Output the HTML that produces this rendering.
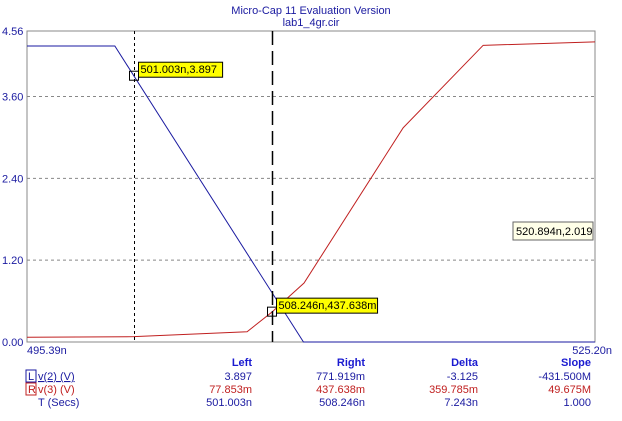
<!DOCTYPE html>
<html><head><meta charset="utf-8"><style>
body{margin:0;background:#fff;width:622px;height:416px;overflow:hidden;font-family:"Liberation Sans",sans-serif}
svg text{font-family:"Liberation Sans",sans-serif;font-size:11px}
</style></head><body>
<svg id="chart" width="622" height="416">
<text x="311" y="14" text-anchor="middle" fill="#1a1aa0">Micro-Cap 11 Evaluation Version</text>
<text x="311" y="26" text-anchor="middle" fill="#1a1aa0">lab1_4gr.cir</text>
<g id="grid"></g><g id="series"></g><g id="cursors"></g>
<g font-size="11">
<text x="252" y="366" text-anchor="end" fill="#1a1ad0" font-weight="bold">Left</text>
<text x="365" y="366" text-anchor="end" fill="#1a1ad0" font-weight="bold">Right</text>
<text x="478" y="366" text-anchor="end" fill="#1a1ad0" font-weight="bold">Delta</text>
<text x="591" y="366" text-anchor="end" fill="#1a1ad0" font-weight="bold">Slope</text>
<rect x="26" y="370" width="10" height="12" fill="none" stroke="#1a1aa0"/>
<text x="28" y="380" fill="#1a1aa0">L</text>
<text x="38" y="380" fill="#1a1aa0" text-decoration="underline">v(2) (V)</text>
<text x="252" y="380" text-anchor="end" fill="#1a1aa0">3.897</text>
<text x="365" y="380" text-anchor="end" fill="#1a1aa0">771.919m</text>
<text x="478" y="380" text-anchor="end" fill="#1a1aa0">-3.125</text>
<text x="591" y="380" text-anchor="end" fill="#1a1aa0">-431.500M</text>
<rect x="26" y="383" width="10" height="12" fill="none" stroke="#c02020"/>
<text x="28" y="393" fill="#c02020">R</text>
<text x="38" y="393" fill="#c02020">v(3) (V)</text>
<text x="252" y="393" text-anchor="end" fill="#c02020">77.853m</text>
<text x="365" y="393" text-anchor="end" fill="#c02020">437.638m</text>
<text x="478" y="393" text-anchor="end" fill="#c02020">359.785m</text>
<text x="591" y="393" text-anchor="end" fill="#c02020">49.675M</text>
<text x="38" y="406" fill="#1a1aa0">T (Secs)</text>
<text x="252" y="406" text-anchor="end" fill="#1a1aa0">501.003n</text>
<text x="365" y="406" text-anchor="end" fill="#1a1aa0">508.246n</text>
<text x="478" y="406" text-anchor="end" fill="#1a1aa0">7.243n</text>
<text x="591" y="406" text-anchor="end" fill="#1a1aa0">1.000</text>
</g>
</svg>
<script>
const yTicks=[0,1.2,2.4,3.6,4.56];
const yTickLabels=["0.00","1.20","2.40","3.60","4.56"];
const xRange=[495.39,525.2];
const xRangeLabels=["495.39n","525.20n"];
const v2Time=[495.39,500.0,509.9,525.2];
const v2Vals=[4.34,4.34,0,0];
const v3Time=[495.39,501.0,506.94,508.25,509.93,515.13,519.33,525.2];
const v3Vals=[0.07,0.078,0.15,0.44,0.865,3.14,4.35,4.40];
const cursorTimes=[501.003,508.246];
const cursorVals=[3.897,0.437638];
const cursorLabels=["501.003n,3.897","508.246n,437.638m"];
const X0=27,X1=595,Y0=342,Y1=31;
const sx=t=>X0+(t-xRange[0])/(xRange[1]-xRange[0])*(X1-X0);
const sy=v=>Y0-(v/4.56)*(Y0-Y1);
const NS="http://www.w3.org/2000/svg";
function mk(tag,at,parent,txt){const e=document.createElementNS(NS,tag);for(const k in at)e.setAttribute(k,at[k]);if(txt!==undefined)e.textContent=txt;parent.appendChild(e);return e;}
const g=document.getElementById('grid'),s=document.getElementById('series'),c=document.getElementById('cursors');
let r=mk('rect',{x:X0,y:Y1,width:X1-X0,height:Y0-Y1,fill:'none',stroke:'#888'},g);


yTicks.forEach((v,i)=>{
 if(v>0&&v<4.56){const l=mk('line',{x1:X0,x2:X1,y1:sy(v),y2:sy(v),stroke:'#888','stroke-dasharray':'3,3'},g);
 
 }
 const t=mk('text',{x:2,y:sy(v)+4,fill:'#1a1aa0'},g,yTickLabels[i]);
 
 
});
let t1=mk('text',{x:X0,y:Y0+12,fill:'#1a1aa0'},g,xRangeLabels[0]);


let t2=mk('text',{x:X1+17,y:Y0+12,fill:'#1a1aa0','text-anchor':'end'},g,xRangeLabels[1]);


const pts=(T,V)=>T.map((t,i)=>sx(t)+','+sy(V[i])).join(' ');
let p3=mk('polyline',{points:pts(v3Time,v3Vals),fill:'none',stroke:'#c02020','stroke-width':1},s);


let p2=mk('polyline',{points:pts(v2Time,v2Vals),fill:'none',stroke:'#1a1aa0','stroke-width':1},s);


const dash=['3,3','14,6'];
cursorTimes.forEach((t,i)=>{
 const x=Math.round(sx(t))+0.5;
 const l=mk('line',{x1:x,x2:x,y1:Y1,y2:Y0,stroke:'#000','stroke-dasharray':dash[i],'stroke-width':i?1.5:1},c);
 
 
 const y=sy(cursorVals[i]);
 mk('rect',{x:x-5,y:y-5,width:9,height:9,fill:'none',stroke:'#000'},c);
 const w=cursorLabels[i].length*5.65+5;
 const b=mk('rect',{x:x+4,y:y-14,width:w,height:15,fill:'#ffff00',stroke:'#000'},c);
 
 
 mk('text',{x:x+6,y:y-3,fill:'#000'},c,cursorLabels[i]);
});
const b=mk('rect',{x:513,y:222,width:80,height:18,fill:'#ffffe8',stroke:'#666'},c);


mk('text',{x:516,y:235,fill:'#000'},c,'520.894n,2.019');
</script>
</body></html>
